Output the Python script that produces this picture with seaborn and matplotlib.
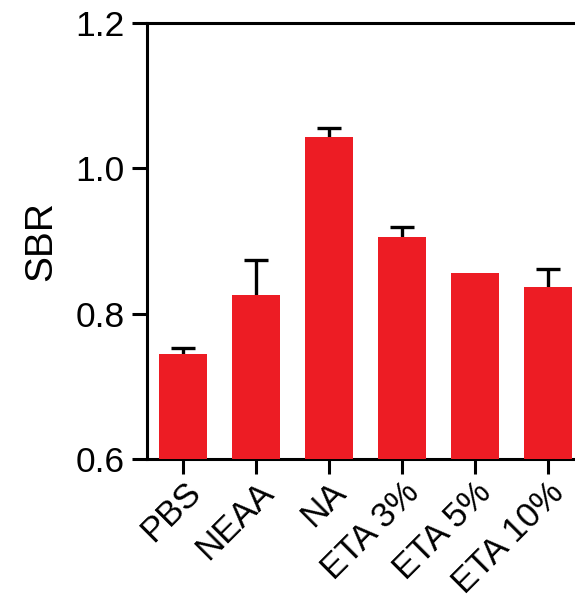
import matplotlib
matplotlib.use("Agg")
import matplotlib.pyplot as plt
import seaborn as sns
import numpy as np
import pandas as pd

categories = ["PBS", "NEAA", "NA", "ETA 3%", "ETA 5%", "ETA 10%"]
sbr_mean = [0.744, 0.826, 1.043, 0.905, 0.856, 0.837]
sbr_err = [0.008, 0.048, 0.012, 0.014, np.nan, 0.024]
y_ticks = [0.6, 0.8, 1.0, 1.2]

sns.set_style("ticks")
plt.rcParams["font.family"] = ["Liberation Sans", "DejaVu Sans"]
plt.rcParams["text.color"] = "black"
plt.rcParams["axes.labelcolor"] = "black"
plt.rcParams["xtick.color"] = "black"
plt.rcParams["ytick.color"] = "black"

df = pd.DataFrame({"group": categories, "SBR": sbr_mean})

fig = plt.figure(figsize=(5.75, 6.0), dpi=100)
ax = fig.add_axes([147 / 575, 1 - 459 / 600, (584 - 147) / 575, (459 - 22.7) / 600])

sns.barplot(data=df, x="group", y="SBR", color="#ED1C24", saturation=1,
            width=0.66, edgecolor="none", ax=ax, zorder=3)

xs = np.arange(len(categories))
lower = np.zeros(len(categories))
eb = ax.errorbar(xs, sbr_mean, yerr=[lower, sbr_err], fmt="none", ecolor="black",
                 elinewidth=2.4, capsize=8.8, capthick=2.4, zorder=2)
# hide the lower caps (they sit at the bar tops)
eb[1][0].set_visible(False)

ax.set_ylim(0.6, 1.2)
ax.set_xlim(-0.5, len(categories) - 0.5)
ax.set_yticks(y_ticks)
ax.set_yticklabels([f"{t:.1f}" for t in y_ticks])
ax.set_xlabel("")
ax.set_ylabel("SBR", fontsize=28, labelpad=12)

for side in ["left", "bottom", "top", "right"]:
    ax.spines[side].set_visible(True)
    ax.spines[side].set_linewidth(2.2)
    ax.spines[side].set_color("black")

ax.tick_params(axis="both", width=2.2, length=11, color="black",
               labelcolor="black", pad=5)
ax.tick_params(axis="y", labelsize=25.5)
ax.tick_params(axis="x", labelsize=25, pad=1)
plt.setp(ax.get_xticklabels(), rotation=45, ha="right", rotation_mode="anchor")

fig.savefig("out.png", dpi=100)
